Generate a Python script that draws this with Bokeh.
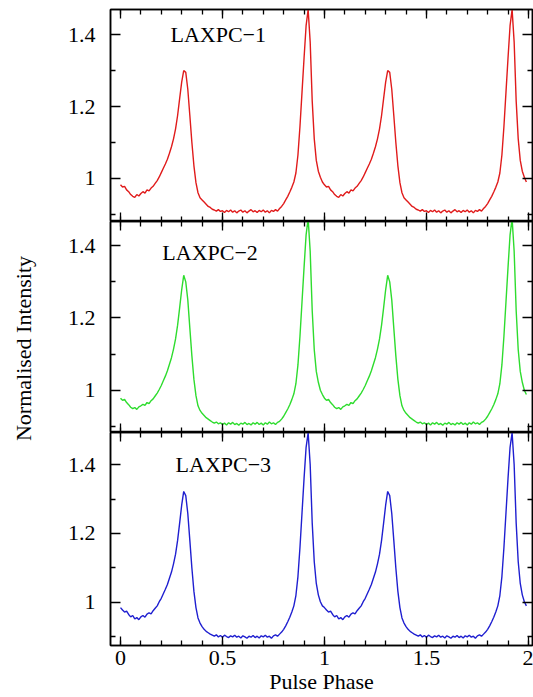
import math
import numpy as np
from bokeh.plotting import figure
from bokeh.models import LinearAxis, Range1d, ColumnDataSource, FixedTicker, Label
from bokeh.layouts import column, row
from bokeh.embed import file_html
from bokeh.resources import INLINE

# ---------------- data (one rotation, 0.01 phase bins; shown twice) ----------------
phase_bins = [i / 100 for i in range(100)]

laxpc1 = [0.982, 0.976, 0.978, 0.968, 0.963, 0.955, 0.950, 0.947, 0.955, 0.951,
          0.958, 0.963, 0.959, 0.968, 0.965, 0.973, 0.978, 0.986, 0.994, 1.004,
          1.016, 1.028, 1.040, 1.053, 1.070, 1.088, 1.110, 1.138, 1.175, 1.222,
          1.268, 1.300, 1.295, 1.248, 1.175, 1.100, 1.035, 0.988, 0.960, 0.946,
          0.940, 0.934, 0.928, 0.922, 0.919, 0.914, 0.912, 0.909, 0.913, 0.908,
          0.910, 0.905, 0.911, 0.907, 0.912, 0.906, 0.910, 0.904, 0.909, 0.912,
          0.906, 0.910, 0.904, 0.909, 0.913, 0.907, 0.910, 0.905, 0.911, 0.907,
          0.912, 0.906, 0.910, 0.904, 0.911, 0.908, 0.913, 0.909, 0.916, 0.922,
          0.930, 0.940, 0.950, 0.962, 0.975, 0.990, 1.015, 1.065, 1.145, 1.240,
          1.335, 1.425, 1.470, 1.380, 1.215, 1.110, 1.050, 1.020, 1.003, 0.990]

laxpc2 = [0.978, 0.972, 0.975, 0.966, 0.960, 0.953, 0.949, 0.952, 0.947, 0.954,
          0.957, 0.961, 0.958, 0.966, 0.963, 0.971, 0.976, 0.984, 0.992, 1.002,
          1.013, 1.026, 1.039, 1.054, 1.072, 1.090, 1.114, 1.142, 1.180, 1.228,
          1.278, 1.318, 1.300, 1.250, 1.172, 1.095, 1.030, 0.985, 0.957, 0.944,
          0.936, 0.930, 0.924, 0.920, 0.916, 0.912, 0.909, 0.912, 0.907, 0.910,
          0.905, 0.909, 0.904, 0.910, 0.906, 0.911, 0.905, 0.908, 0.903, 0.909,
          0.906, 0.911, 0.905, 0.908, 0.904, 0.910, 0.906, 0.911, 0.905, 0.909,
          0.904, 0.910, 0.906, 0.912, 0.907, 0.910, 0.905, 0.911, 0.914, 0.920,
          0.928, 0.938, 0.948, 0.960, 0.974, 0.990, 1.018, 1.070, 1.150, 1.245,
          1.340, 1.430, 1.475, 1.385, 1.220, 1.112, 1.052, 1.022, 1.000, 0.988]

laxpc3 = [0.985, 0.978, 0.972, 0.975, 0.965, 0.958, 0.962, 0.952, 0.956, 0.950,
          0.958, 0.962, 0.957, 0.966, 0.970, 0.967, 0.976, 0.983, 0.990, 1.002,
          1.012, 1.025, 1.038, 1.052, 1.070, 1.088, 1.112, 1.140, 1.180, 1.230,
          1.282, 1.322, 1.310, 1.258, 1.180, 1.100, 1.032, 0.985, 0.955, 0.940,
          0.930, 0.922, 0.916, 0.912, 0.908, 0.905, 0.902, 0.906, 0.900, 0.904,
          0.899, 0.905, 0.901, 0.898, 0.903, 0.900, 0.905, 0.899, 0.902, 0.897,
          0.903, 0.900, 0.896, 0.902, 0.899, 0.904, 0.898, 0.902, 0.897, 0.903,
          0.900, 0.905, 0.899, 0.902, 0.896, 0.903, 0.906, 0.902, 0.908, 0.914,
          0.922, 0.932, 0.944, 0.957, 0.972, 0.990, 1.020, 1.075, 1.160, 1.260,
          1.360, 1.450, 1.492, 1.400, 1.230, 1.118, 1.055, 1.022, 1.002, 0.990]

panel_names = ["LAXPC\u22121", "LAXPC\u22122", "LAXPC\u22123"]
x_major_ticks = [0, 0.5, 1, 1.5, 2]
x_minor_ticks = [round(i * 0.1, 1) for i in range(0, 21)]
y_major_ticks = [1, 1.2, 1.4]
y_minor_ticks = [0.9, 1.1, 1.3]
x_tick_labels = {0: "0", 0.5: "0.5", 1: "1", 1.5: "1.5", 2: "2"}
y_tick_labels = {1: "1", 1.2: "1.2", 1.4: "1.4"}

# ---------------- styling ----------------
FONT = "Liberation Serif"
LABEL_W = 48
PANEL_W = 485
colors = ["#e01b1b", "#2edc2e", "#1f1fd0"]
y_ranges = [(0.880, 1.470), (0.883, 1.467), (0.875, 1.493)]
label_pos = [(0.245, 1.40), (0.205, 1.38), (0.27, 1.40)]
heights = [221, 211, 264]
tops = [9, 0, 0]
bottoms = [0, 0, 51]


def style_axis(ax, dim, show_labels):
    if dim == "x":
        ax.ticker = FixedTicker(ticks=x_major_ticks, minor_ticks=x_minor_ticks)
        ax.major_tick_in = 9
        ax.minor_tick_in = 5
        labels = x_tick_labels
    else:
        ax.ticker = FixedTicker(ticks=y_major_ticks, minor_ticks=y_minor_ticks)
        ax.major_tick_in = 10
        ax.minor_tick_in = 5
        labels = y_tick_labels
    ax.major_tick_out = 0
    ax.minor_tick_out = 0
    ax.axis_line_color = "black"
    ax.axis_line_width = 1.5
    ax.major_tick_line_width = 1.3
    ax.minor_tick_line_width = 1.3
    ax.major_tick_line_color = "black"
    ax.minor_tick_line_color = "black"
    if show_labels:
        ax.major_label_overrides = labels
        ax.major_label_text_font = FONT
        ax.major_label_text_font_size = "22px"
        ax.major_label_text_color = "black"
        ax.major_label_standoff = 15 if dim == "y" else 5
    else:
        ax.major_label_overrides = {k: "" for k in labels}
        ax.major_label_text_font_size = "1px"
        ax.major_label_standoff = 0


panels = []
for i, vals in enumerate([laxpc1, laxpc2, laxpc3]):
    x = np.concatenate([np.array(phase_bins), np.array(phase_bins) + 1.0])
    y = np.concatenate([np.array(vals), np.array(vals)])
    src = ColumnDataSource(dict(x=x, y=y))
    p = figure(width=PANEL_W, height=heights[i],
               x_range=Range1d(-0.049, 2.020), y_range=Range1d(*y_ranges[i]),
               output_backend="svg", toolbar_location=None,
               x_axis_location=None, y_axis_location=None,
               min_border_left=62, min_border_right=1,
               min_border_top=tops[i], min_border_bottom=bottoms[i])
    p.grid.visible = False
    p.outline_line_color = "black"
    p.outline_line_width = 1.5
    p.background_fill_color = "white"
    p.border_fill_color = "white"

    bottom = LinearAxis()
    style_axis(bottom, "x", i == 2)
    if i == 2:
        bottom.axis_label = "Pulse Phase"
        bottom.axis_label_text_font = FONT
        bottom.axis_label_text_font_size = "22px"
        bottom.axis_label_text_font_style = "normal"
        bottom.axis_label_text_color = "black"
        bottom.axis_label_standoff = 1
    p.add_layout(bottom, "below")
    top = LinearAxis()
    style_axis(top, "x", False)
    p.add_layout(top, "above")
    left = LinearAxis()
    style_axis(left, "y", True)
    p.add_layout(left, "left")
    right = LinearAxis()
    style_axis(right, "y", False)
    p.add_layout(right, "right")

    p.line("x", "y", source=src, line_color=colors[i], line_width=1.4)
    p.add_layout(Label(x=label_pos[i][0], y=label_pos[i][1], text=panel_names[i],
                       text_font=FONT, text_font_size="22px", text_color="black",
                       text_baseline="middle", text_align="left"))
    panels.append(p)

total_h = sum(heights)
lab = figure(width=LABEL_W, height=total_h, x_range=Range1d(0, LABEL_W),
             y_range=Range1d(0, total_h), output_backend="svg",
             toolbar_location=None, x_axis_location=None, y_axis_location=None,
             min_border_left=0, min_border_right=0, min_border_top=0,
             min_border_bottom=0)
lab.grid.visible = False
lab.outline_line_color = None
lab.add_layout(Label(x=23, y=total_h - 348, text="Normalised Intensity", angle=math.pi / 2,
                     text_font=FONT, text_font_size="22px", text_color="black",
                     text_align="center", text_baseline="middle"))

layout = row(lab, column(*panels))
open("out.html", "w").write(file_html(layout, INLINE))
